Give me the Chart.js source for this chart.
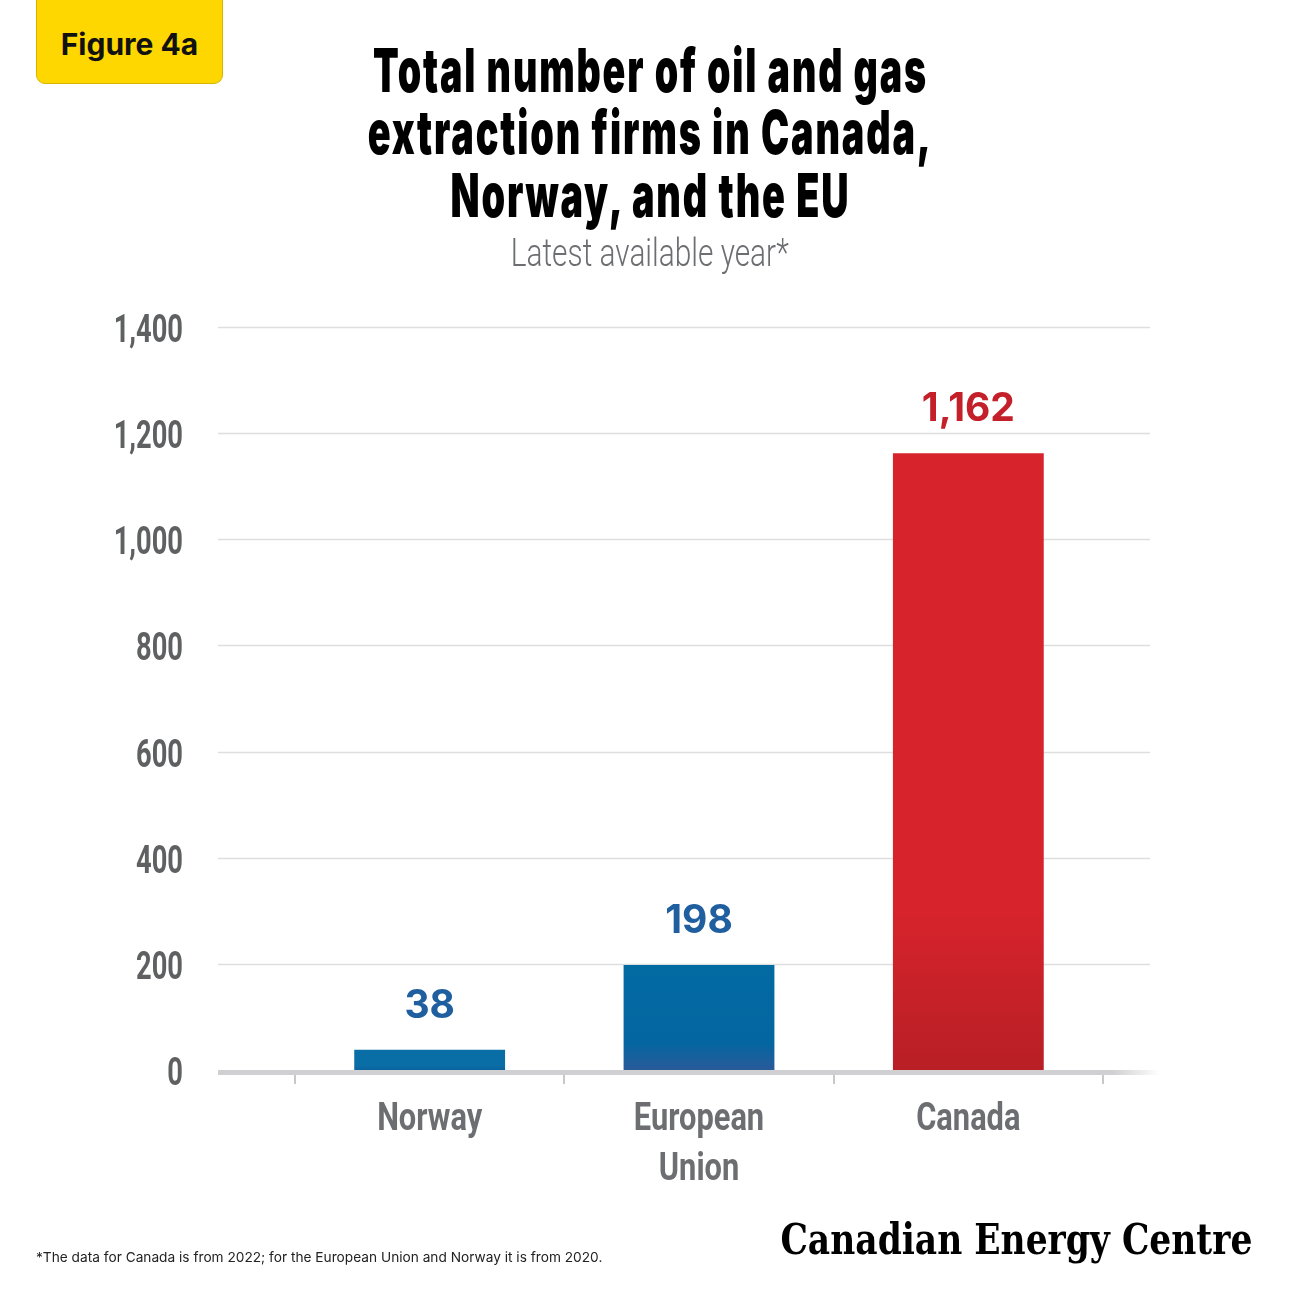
<!DOCTYPE html>
<html lang="en">
<head>
<meta charset="UTF-8">
<title>Oil and gas extraction firms</title>
<script src="https://cdn.jsdelivr.net/npm/chart.js"></script>
<style>
  html, body { margin: 0; padding: 0; background: #fff; }
  #wrap { position: relative; width: 1300px; height: 1300px; overflow: hidden; }
  #chart { position: absolute; left: 0; top: 0; }
  .badge {
    position: absolute; left: 36px; top: -10px; width: 187px; height: 94px;
    background: #FFD700; border: 1px solid #d8b400; border-radius: 9px; box-sizing: border-box;
    font-family: Inter, 'Noto Sans', sans-serif; font-weight: 700; font-size: 30px; color: #111;
    display: flex; align-items: center; justify-content: center; padding-top: 14px;
  }
  .fit { position: absolute; white-space: nowrap; transform-origin: center top; line-height: 1; }
  .title { font-family: Inter, Roboto, sans-serif; font-weight: 900; font-size: 61px; color: #000; letter-spacing: 3px; }
  .sub { font-family: Roboto, 'Noto Sans', sans-serif; font-weight: 300; font-size: 39px; color: #6d6e71; }
  .note { position: absolute; left: 36px; top: 1249px; font-family: Inter, 'Noto Sans', sans-serif;
          font-size: 13.7px; color: #222; white-space: nowrap; }
  .brand { font-family: 'DejaVu Serif', 'Liberation Serif', serif; font-weight: 700; font-size: 42px; color: #000; }
</style>
</head>
<body>
<div id="wrap">
  <canvas id="chart" width="1300" height="1300"></canvas>
  <div class="badge">Figure 4a</div>
  <div class="fit title" data-w="555" data-cx="650" style="top:40px">Total number of oil and gas</div>
  <div class="fit title" data-w="565" data-cx="650" style="top:102px">extraction firms in Canada,</div>
  <div class="fit title" data-w="400" data-cx="650" style="top:165px">Norway, and the EU</div>
  <div class="fit sub" data-w="278" data-cx="650" style="top:234px">Latest available year*</div>
  <div class="note">*The data for Canada is from 2022; for the European Union and Norway it is from 2020.</div>
  <div class="fit brand" data-w="472" data-cx="1016" style="top:1219px">Canadian Energy Centre</div>
</div>
<script>
// data
const categories = ['Norway', ['European', 'Union'], 'Canada'];
const firmCounts = [38, 198, 1162];
const yTicks = [0, 200, 400, 600, 800, 1000, 1200, 1400];

// squeeze the condensed headings to the widths seen in the original
document.querySelectorAll('.fit').forEach(el => {
  const w = el.getBoundingClientRect().width;
  const s = +el.dataset.w / w;
  el.style.left = (+el.dataset.cx - w / 2) + 'px';
  el.style.transform = 'scaleX(' + s + ')';
});

const barTops = ['#0a6ea6', '#036aa2', '#d6232c'];
const barBottoms = ['#0a64a0', '#2a5a9a', '#b81f25'];
const labelColors = ['#1f5fa0', '#1f5fa0', '#c4202a'];

function barFill(context) {
  const { ctx, chartArea, scales } = context.chart;
  const i = context.dataIndex;
  if (!chartArea) return barTops[i];
  const y0 = scales.y.getPixelForValue(0);
  const y1 = scales.y.getPixelForValue(firmCounts[i]);
  const g = ctx.createLinearGradient(0, y1, 0, y0);
  g.addColorStop(0, barTops[i]);
  g.addColorStop(0.75, i === 1 ? '#0466a0' : barTops[i]);
  g.addColorStop(1, barBottoms[i]);
  return g;
}

// full width grid lines + the heavy baseline
const gridPlugin = {
  id: 'wideGrid',
  beforeDatasetsDraw(chart) {
    const { ctx, scales } = chart;
    ctx.save();
    ctx.strokeStyle = '#dedede';
    ctx.lineWidth = 1.5;
    yTicks.forEach(v => {
      if (v === 0) return;
      const y = Math.round(scales.y.getPixelForValue(v)) + 0.5;
      ctx.beginPath(); ctx.moveTo(218, y); ctx.lineTo(1150, y); ctx.stroke();
    });
    ctx.restore();
  },
  afterDatasetsDraw(chart) {
    const { ctx, scales } = chart;
    const y = scales.y.getPixelForValue(0) + 2;
    const g = ctx.createLinearGradient(218, 0, 1160, 0);
    g.addColorStop(0, '#d0d0d2');
    g.addColorStop(0.95, '#d0d0d2');
    g.addColorStop(1, 'rgba(208,208,210,0)');
    ctx.save();
    ctx.fillStyle = g;
    ctx.fillRect(218, y - 2, 942, 5);
    ctx.restore();
  }
};

// condensed axis labels: the library's own labels are hidden, these are squeezed copies
function squeezed(ctx, text, x, y, align, sx) {
  ctx.save();
  ctx.translate(x, y);
  ctx.scale(sx, 1);
  ctx.textAlign = align;
  ctx.fillText(text, 0, 0);
  ctx.restore();
}

const axisLabels = {
  id: 'axisLabels',
  afterDraw(chart) {
    const { ctx, scales } = chart;
    ctx.save();
    ctx.textBaseline = 'alphabetic';
    ctx.fillStyle = '#5f6062';
    ctx.font = '700 39px Roboto, sans-serif';
    yTicks.forEach(v => {
      squeezed(ctx, v.toLocaleString('en-US'), 183, scales.y.getPixelForValue(v) + 15, 'right', 0.7);
    });
    ctx.fillStyle = '#6d6e71';
    ctx.font = '700 39px Roboto, sans-serif';
    categories.forEach((c, i) => {
      const lines = Array.isArray(c) ? c : [c];
      const x = scales.x.getPixelForValue(i);
      lines.forEach((t, k) => squeezed(ctx, t, x, 1130 + k * 50, 'center', 0.79));
    });
    ctx.restore();
  }
};

const valueLabels = {
  id: 'valueLabels',
  afterDatasetsDraw(chart) {
    const { ctx } = chart;
    const meta = chart.getDatasetMeta(0);
    ctx.save();
    ctx.font = "700 39px Inter, 'Noto Sans', sans-serif";
    ctx.textAlign = 'center';
    ctx.textBaseline = 'middle';
    meta.data.forEach((bar, i) => {
      ctx.fillStyle = labelColors[i];
      ctx.fillText(firmCounts[i].toLocaleString('en-US'), bar.x, bar.y - 44);
    });
    ctx.restore();
  }
};

new Chart(document.getElementById('chart'), {
  type: 'bar',
  data: {
    labels: categories,
    datasets: [{
      data: firmCounts,
      backgroundColor: barFill,
      borderWidth: 0,
      barPercentage: 0.56,
      categoryPercentage: 1
    }]
  },
  options: {
    responsive: false,
    animation: false,
    layout: { padding: { top: 327, right: 197, left: 0, bottom: 0 } },
    plugins: { legend: { display: false }, tooltip: { enabled: false } },
    scales: {
      y: {
        min: 0, max: 1400,
        afterFit(scale) { scale.width = 295; },
        afterBuildTicks(scale) { scale.ticks = yTicks.map(v => ({ value: v })); },
        grid: { display: false },
        border: { display: false },
        ticks: { color: 'rgba(0,0,0,0)', font: { size: 30 } }
      },
      x: {
        afterFit(scale) { scale.height = 230; },
        offset: true,
        grid: { offset: true, drawOnChartArea: false, drawTicks: true, tickLength: 14, color: '#c8c8ca', lineWidth: 2 },
        border: { display: false },
        ticks: { color: 'rgba(0,0,0,0)', maxRotation: 0, font: { size: 30 } }
      }
    }
  },
  plugins: [gridPlugin, axisLabels, valueLabels]
});
</script>
</body>
</html>
